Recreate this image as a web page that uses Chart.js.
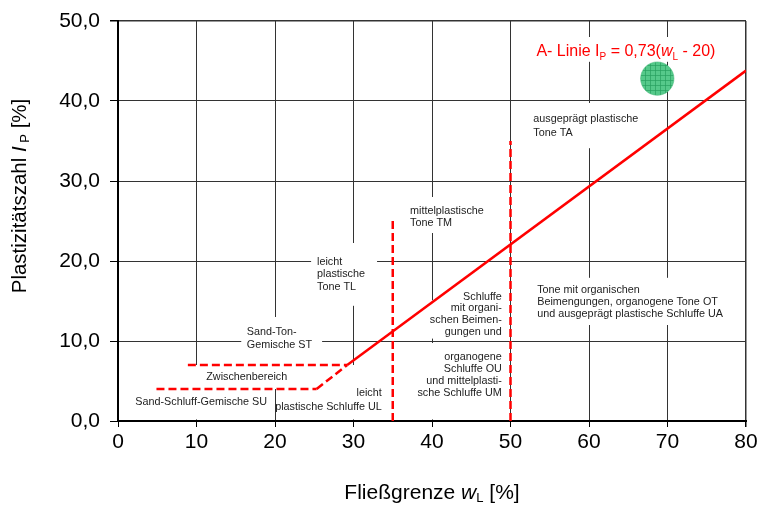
<!DOCTYPE html>
<html>
<head>
<meta charset="utf-8">
<script src="https://cdn.jsdelivr.net/npm/chart.js@4/dist/chart.umd.min.js"></script>
<style>
  html, body { margin: 0; padding: 0; background: #fff; }
  #wrap { width: 757px; height: 507px; }
</style>
</head>
<body>
<div id="wrap"><canvas id="chart" width="757" height="507"></canvas></div>
<script>
// Axis ticks
const xTickValues = [0, 10, 20, 30, 40, 50, 60, 70, 80];
const yTickValues = [0, 10, 20, 30, 40, 50];

// A-line and group boundaries (w_L, I_P)
const aLineSolid = [{ x: 29.2, y: 7 }, { x: 80, y: 43.8 }];
const aLineDashed = [{ x: 25.3, y: 4 }, { x: 29.2, y: 7 }];
const boundaryIp7 = [{ x: 8.9, y: 7 }, { x: 29.2, y: 7 }];
const boundaryIp4 = [{ x: 4.9, y: 4 }, { x: 25.3, y: 4 }];
const limitWl35 = [{ x: 35, y: 0 }, { x: 35, y: 25 }];
const limitWl50 = [{ x: 50, y: 0 }, { x: 50, y: 35 }];

// Sample point
const samplePoint = [{ x: 68.7, y: 42.8 }];

// Soil group annotations: text lines, anchor and white backing box (data units)
const regionLabels = [
  { lines: ['leicht', 'plastische', 'Tone TL'], x: 25.35, y: 19.9, gap: 12.5, align: 'left', box: [24.6, 22.25, 33.0, 14.4] },
  { lines: ['Sand-Ton-', 'Gemische ST'], x: 16.4, y: 11.1, gap: 13, align: 'left', box: [15.7, 13.0, 26.0, 7.1] },
  { lines: ['Zwischenbereich'], x: 16.4, y: 5.5, gap: 13, align: 'center', box: [8.9, 7, 29.2, 4] },
  { lines: ['Sand-Schluff-Gemische SU'], x: 10.6, y: 2.4, gap: 13, align: 'center', box: [1.5, 4, 19.3, 0.2] },
  { lines: ['leicht', 'plastische Schluffe UL'], x: 33.6, y: 3.54, gap: 14, align: 'right', box: [20.35, 7, 34.5, 0.2] },
  { lines: ['mittelplastische', 'Tone TM'], x: 37.2, y: 26.3, gap: 12.7, align: 'left', box: [35.9, 28.0, 47.9, 23.5] },
  { lines: ['Schluffe', 'mit organi-', 'schen Beimen-', 'gungen und'], x: 48.9, y: 15.54, gap: 11.7, align: 'right', box: [39.1, 15.1, 49.4, 10.3] },
  { lines: ['organogene', 'Schluffe OU', 'und mittelplasti-', 'sche Schluffe UM'], x: 48.9, y: 8.04, gap: 12.2, align: 'right', box: [39.1, 9.75, 49.4, 0.2] },
  { lines: ['ausgeprägt plastische', 'Tone TA'], x: 52.9, y: 37.7, gap: 13.4, align: 'left', box: [51.2, 39.75, 69.0, 34.1] },
  { lines: ['Tone mit organischen', 'Beimengungen, organogene Tone OT', 'und ausgeprägt plastische Schluffe UA'], x: 53.4, y: 16.4, gap: 12, align: 'left', box: [52.2, 17.9, 78.0, 12.0] }
];

// A-line caption, drawn as styled runs
const aLineCaption = {
  x: 53.3, y: 45.6, box: [52.5, 48.0, 76.9, 44.9],
  runs: [
    { t: 'A- Linie I', s: 'n' }, { t: 'P', s: 'sub' }, { t: ' = 0,73(', s: 'n' },
    { t: 'w', s: 'i' }, { t: 'L', s: 'sub' }, { t: ' - 20)', s: 'n' }
  ]
};

const FONT = '"Liberation Sans", Arial, sans-serif';
const RED = '#ff0000';

function makeHatch() {
  const c = document.createElement('canvas');
  c.width = 5; c.height = 5;
  const g = c.getContext('2d');
  g.fillStyle = '#55c98a';
  g.fillRect(0, 0, 5, 5);
  g.fillStyle = 'rgba(40,160,95,0.7)';
  g.fillRect(0, 0, 5, 1);
  g.fillRect(0, 0, 1, 5);
  return g.createPattern(c, 'repeat');
}

function drawRuns(ctx, runs, x, y, size, color, measureOnly) {
  let cx = x;
  for (const r of runs) {
    let f, dy = 0;
    if (r.s === 'sub') { f = `${Math.round(size * 0.62)}px ${FONT}`; dy = size * 0.25; }
    else if (r.s === 'i') { f = `italic ${size}px ${FONT}`; }
    else { f = `${size}px ${FONT}`; }
    ctx.font = f;
    if (!measureOnly) { ctx.fillStyle = color; ctx.fillText(r.t, cx, y + dy); }
    cx += ctx.measureText(r.t).width;
  }
  return cx - x;
}

const regionPlugin = {
  id: 'regions',
  beforeDatasetsDraw(chart) {
    const { ctx, scales: { x, y } } = chart;
    ctx.save();
    const fillBox = (b) => {
      const x0 = x.getPixelForValue(b[0]), y0 = y.getPixelForValue(b[1]);
      const x1 = x.getPixelForValue(b[2]), y1 = y.getPixelForValue(b[3]);
      ctx.fillStyle = '#ffffff';
      ctx.fillRect(x0, y0, x1 - x0, y1 - y0);
    };
    regionLabels.forEach(l => fillBox(l.box));
    fillBox(aLineCaption.box);

    ctx.font = `10.8px ${FONT}`;
    ctx.fillStyle = '#222';
    ctx.textBaseline = 'middle';
    regionLabels.forEach(l => {
      ctx.textAlign = l.align;
      const px = x.getPixelForValue(l.x);
      const py = y.getPixelForValue(l.y);
      l.lines.forEach((t, i) => ctx.fillText(t, px, py + i * l.gap));
    });

    ctx.textAlign = 'left';
    ctx.textBaseline = 'alphabetic';
    drawRuns(ctx, aLineCaption.runs, x.getPixelForValue(aLineCaption.x), y.getPixelForValue(aLineCaption.y), 16, RED);
    ctx.restore();
  },
  afterDraw(chart) {
    const { ctx, chartArea } = chart;
    ctx.save();
    ctx.textAlign = 'left';
    ctx.textBaseline = 'middle';
    // x axis title
    const xRuns = [{ t: 'Fließgrenze ', s: 'n' }, { t: 'w', s: 'i' }, { t: 'L', s: 'sub' }, { t: ' [%]', s: 'n' }];
    const xw = drawRuns(ctx, xRuns, 0, 0, 21, '#000', true);
    drawRuns(ctx, xRuns, (chartArea.left + chartArea.right) / 2 - xw / 2, 493, 21, '#000');
    // y axis title
    const yRuns = [{ t: 'Plastizitätszahl ', s: 'n' }, { t: 'I', s: 'i' }, { t: ' P', s: 'sub' }, { t: ' [%]', s: 'n' }];
    const yw = drawRuns(ctx, yRuns, 0, 0, 20.5, '#000', true);
    ctx.translate(20, 196);
    ctx.rotate(-Math.PI / 2);
    drawRuns(ctx, yRuns, -yw / 2, 0, 20.5, '#000');
    ctx.restore();
  }
};

const lineSet = (data, dash) => ({
  type: 'scatter', data, showLine: true, borderColor: RED, backgroundColor: RED,
  borderWidth: 2.5, borderDash: dash || [], pointRadius: 0, pointHoverRadius: 0, order: 2
});

new Chart(document.getElementById('chart'), {
  type: 'scatter',
  data: {
    datasets: [
      lineSet(boundaryIp7, [8, 4]),
      lineSet(boundaryIp4, [8, 4]),
      lineSet(aLineDashed, [8, 4]),
      lineSet(limitWl35, [8, 4]),
      lineSet(limitWl50, [8, 4]),
      lineSet(aLineSolid),
      {
        type: 'scatter', data: samplePoint, pointRadius: 16.7, pointHoverRadius: 16.7,
        backgroundColor: makeHatch(), borderColor: '#45b878', borderWidth: 0.5, order: 1
      }
    ]
  },
  options: {
    responsive: false,
    animation: false,
    devicePixelRatio: 1,
    layout: { autoPadding: false, padding: { top: 21, right: 11, left: 0, bottom: 0 } },
    plugins: { legend: { display: false }, tooltip: { enabled: false } },
    events: [],
    scales: {
      x: {
        type: 'linear', min: 0, max: 80,
        afterBuildTicks: s => { s.ticks = xTickValues.map(v => ({ value: v })); },
        afterFit: s => { s.height = 86; s.paddingLeft = 0; s.paddingRight = 0; },
        ticks: { font: { family: FONT, size: 21 }, color: '#000', padding: 3, maxRotation: 0 },
        grid: { color: '#333', lineWidth: c => (c.tick && c.tick.value === 80 ? 1.5 : 1), tickLength: 6, tickColor: '#000' },
        border: { display: true, color: '#000', width: 2 }
      },
      y: {
        type: 'linear', min: 0, max: 50,
        afterBuildTicks: s => { s.ticks = yTickValues.map(v => ({ value: v })); },
        afterFit: s => { s.width = 118; s.paddingTop = 0; s.paddingBottom = 0; },
        ticks: { font: { family: FONT, size: 21 }, color: '#000', padding: 10, callback: v => v.toFixed(1).replace('.', ',') },
        grid: { color: '#333', lineWidth: c => (c.tick && c.tick.value === 50 ? 1.5 : 1), tickLength: 8, tickColor: '#000' },
        border: { display: true, color: '#000', width: 2 }
      }
    }
  },
  plugins: [regionPlugin]
});
</script>
</body>
</html>
